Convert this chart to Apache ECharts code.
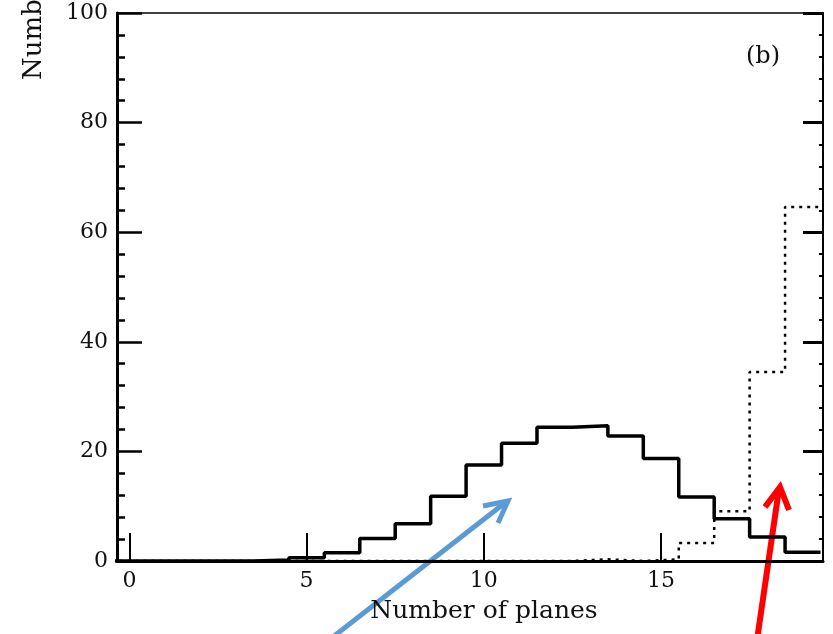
<!DOCTYPE html>
<html>
<head>
<meta charset="utf-8">
<script src="https://cdn.jsdelivr.net/npm/echarts@6/dist/echarts.min.js"></script>
<style>
  html, body { margin: 0; padding: 0; background: #fff; }
  #chart { width: 833px; height: 634px; }
</style>
</head>
<body>
<div id="chart"></div>
<script>
// number of planes (bin centres)
const planes = [0, 1, 2, 3, 4, 5, 6, 7, 8, 9, 10, 11, 12, 13, 14, 15, 16, 17, 18, 19];
// solid histogram
const solidCounts = [0, 0, 0, 0, 0.2, 0.6, 1.5, 4.1, 6.8, 11.8, 17.5, 21.5, 24.4, 24.7, 22.8, 18.7, 11.7, 7.7, 4.4, 1.6];
// dotted histogram
const dottedCounts = [0, 0, 0, 0, 0, 0, 0, 0, 0, 0, 0, 0, 0, 0.3, 0, 0.3, 3.3, 9.1, 34.5, 64.6];
const xTicks = [0, 5, 10, 15];

const FONT = 'DejaVu Serif';

// bin edges -> step line points
function histPoints(vals) {
    let pts = vals.map((v, i) => [planes[i] - 0.5, v]);
    pts.push([planes[planes.length - 1] + 0.5, vals[vals.length - 1]]);
    return pts;
}

let chartDom = document.getElementById('chart');
let myChart = echarts.init(chartDom);
let option = {
    animation: false,
    backgroundColor: '#fff',
    grid: { left: 117, right: 10, top: 13, bottom: 73 },
    xAxis: [
        {
            type: 'value',
            position: 'bottom',
            min: -0.35,
            max: 19.57,
            name: 'Number of planes',
            nameLocation: 'middle',
            nameGap: 38,
            nameTextStyle: { fontFamily: FONT, fontSize: 25, color: '#111', padding: [0, 0, 0, 28] },
            axisLine: { onZero: false, lineStyle: { color: '#000', width: 3 } },
            axisTick: { customValues: xTicks, inside: true, length: 28, lineStyle: { color: '#000', width: 2 } },
            axisLabel: { customValues: xTicks, margin: 9, fontFamily: FONT, fontSize: 22, color: '#111' },
            splitLine: { show: false }
        },
        {
            type: 'value',
            position: 'top',
            min: -0.35,
            max: 19.57,
            axisLine: { onZero: false, lineStyle: { color: '#000', width: 1.5 } },
            axisTick: { show: false },
            axisLabel: { show: false },
            splitLine: { show: false }
        }
    ],
    yAxis: [
        {
            type: 'value',
            position: 'left',
            min: 0,
            max: 100,
            interval: 20,
            axisLine: { onZero: false, lineStyle: { color: '#000', width: 3 } },
            axisTick: { inside: true, length: 25, lineStyle: { color: '#000', width: 2.5 } },
            minorTick: { show: true, splitNumber: 5, length: 8, lineStyle: { color: '#000', width: 2.5 } },
            axisLabel: { margin: 9, fontFamily: FONT, fontSize: 22, color: '#111' },
            splitLine: { show: false }
        },
        {
            type: 'value',
            position: 'right',
            min: 0,
            max: 100,
            interval: 20,
            axisLine: { onZero: false, lineStyle: { color: '#000', width: 2 } },
            axisTick: { inside: true, length: 20, lineStyle: { color: '#000', width: 3 } },
            minorTick: { show: true, splitNumber: 5, length: 4, lineStyle: { color: '#000', width: 2 } },
            axisLabel: { show: false },
            splitLine: { show: false }
        }
    ],
    series: [
        {
            name: 'dotted',
            type: 'line',
            step: 'end',
            data: histPoints(dottedCounts),
            symbol: 'none',
            z: 3,
            lineStyle: { color: '#000', width: 2.5, type: [3, 5] }
        },
        {
            name: 'solid',
            type: 'line',
            step: 'end',
            data: histPoints(solidCounts),
            symbol: 'none',
            z: 4,
            lineStyle: { color: '#000', width: 3.5 }
        }
    ],
    graphic: [
        {
            type: 'text',
            x: 34,
            y: 80,
            rotation: Math.PI / 2,
            style: { text: 'Number of events', font: '26px "DejaVu Serif"', fill: '#111', textAlign: 'left', textVerticalAlign: 'middle' }
        },
        {
            type: 'text',
            x: 763,
            y: 57,
            style: { text: '(b)', font: '24px "DejaVu Serif"', fill: '#111', textAlign: 'center', textVerticalAlign: 'middle' }
        },
        // blue arrow
        {
            type: 'line',
            shape: { x1: 329, y1: 640, x2: 506, y2: 502 },
            style: { stroke: '#5b9bd5', lineWidth: 5 }
        },
        {
            type: 'polyline',
            shape: { points: [[483, 506], [508, 501], [498, 523]] },
            style: { stroke: '#5b9bd5', lineWidth: 5, fill: null, lineJoin: 'miter' }
        },
        // red arrow
        {
            type: 'line',
            shape: { x1: 757, y1: 640, x2: 779, y2: 489 },
            style: { stroke: '#ff0000', lineWidth: 6 }
        },
        {
            type: 'polyline',
            shape: { points: [[765, 507], [780, 487], [789, 510]] },
            style: { stroke: '#ff0000', lineWidth: 6, fill: null, lineJoin: 'miter' }
        }
    ]
};

myChart.setOption(option);
</script>
</body>
</html>
